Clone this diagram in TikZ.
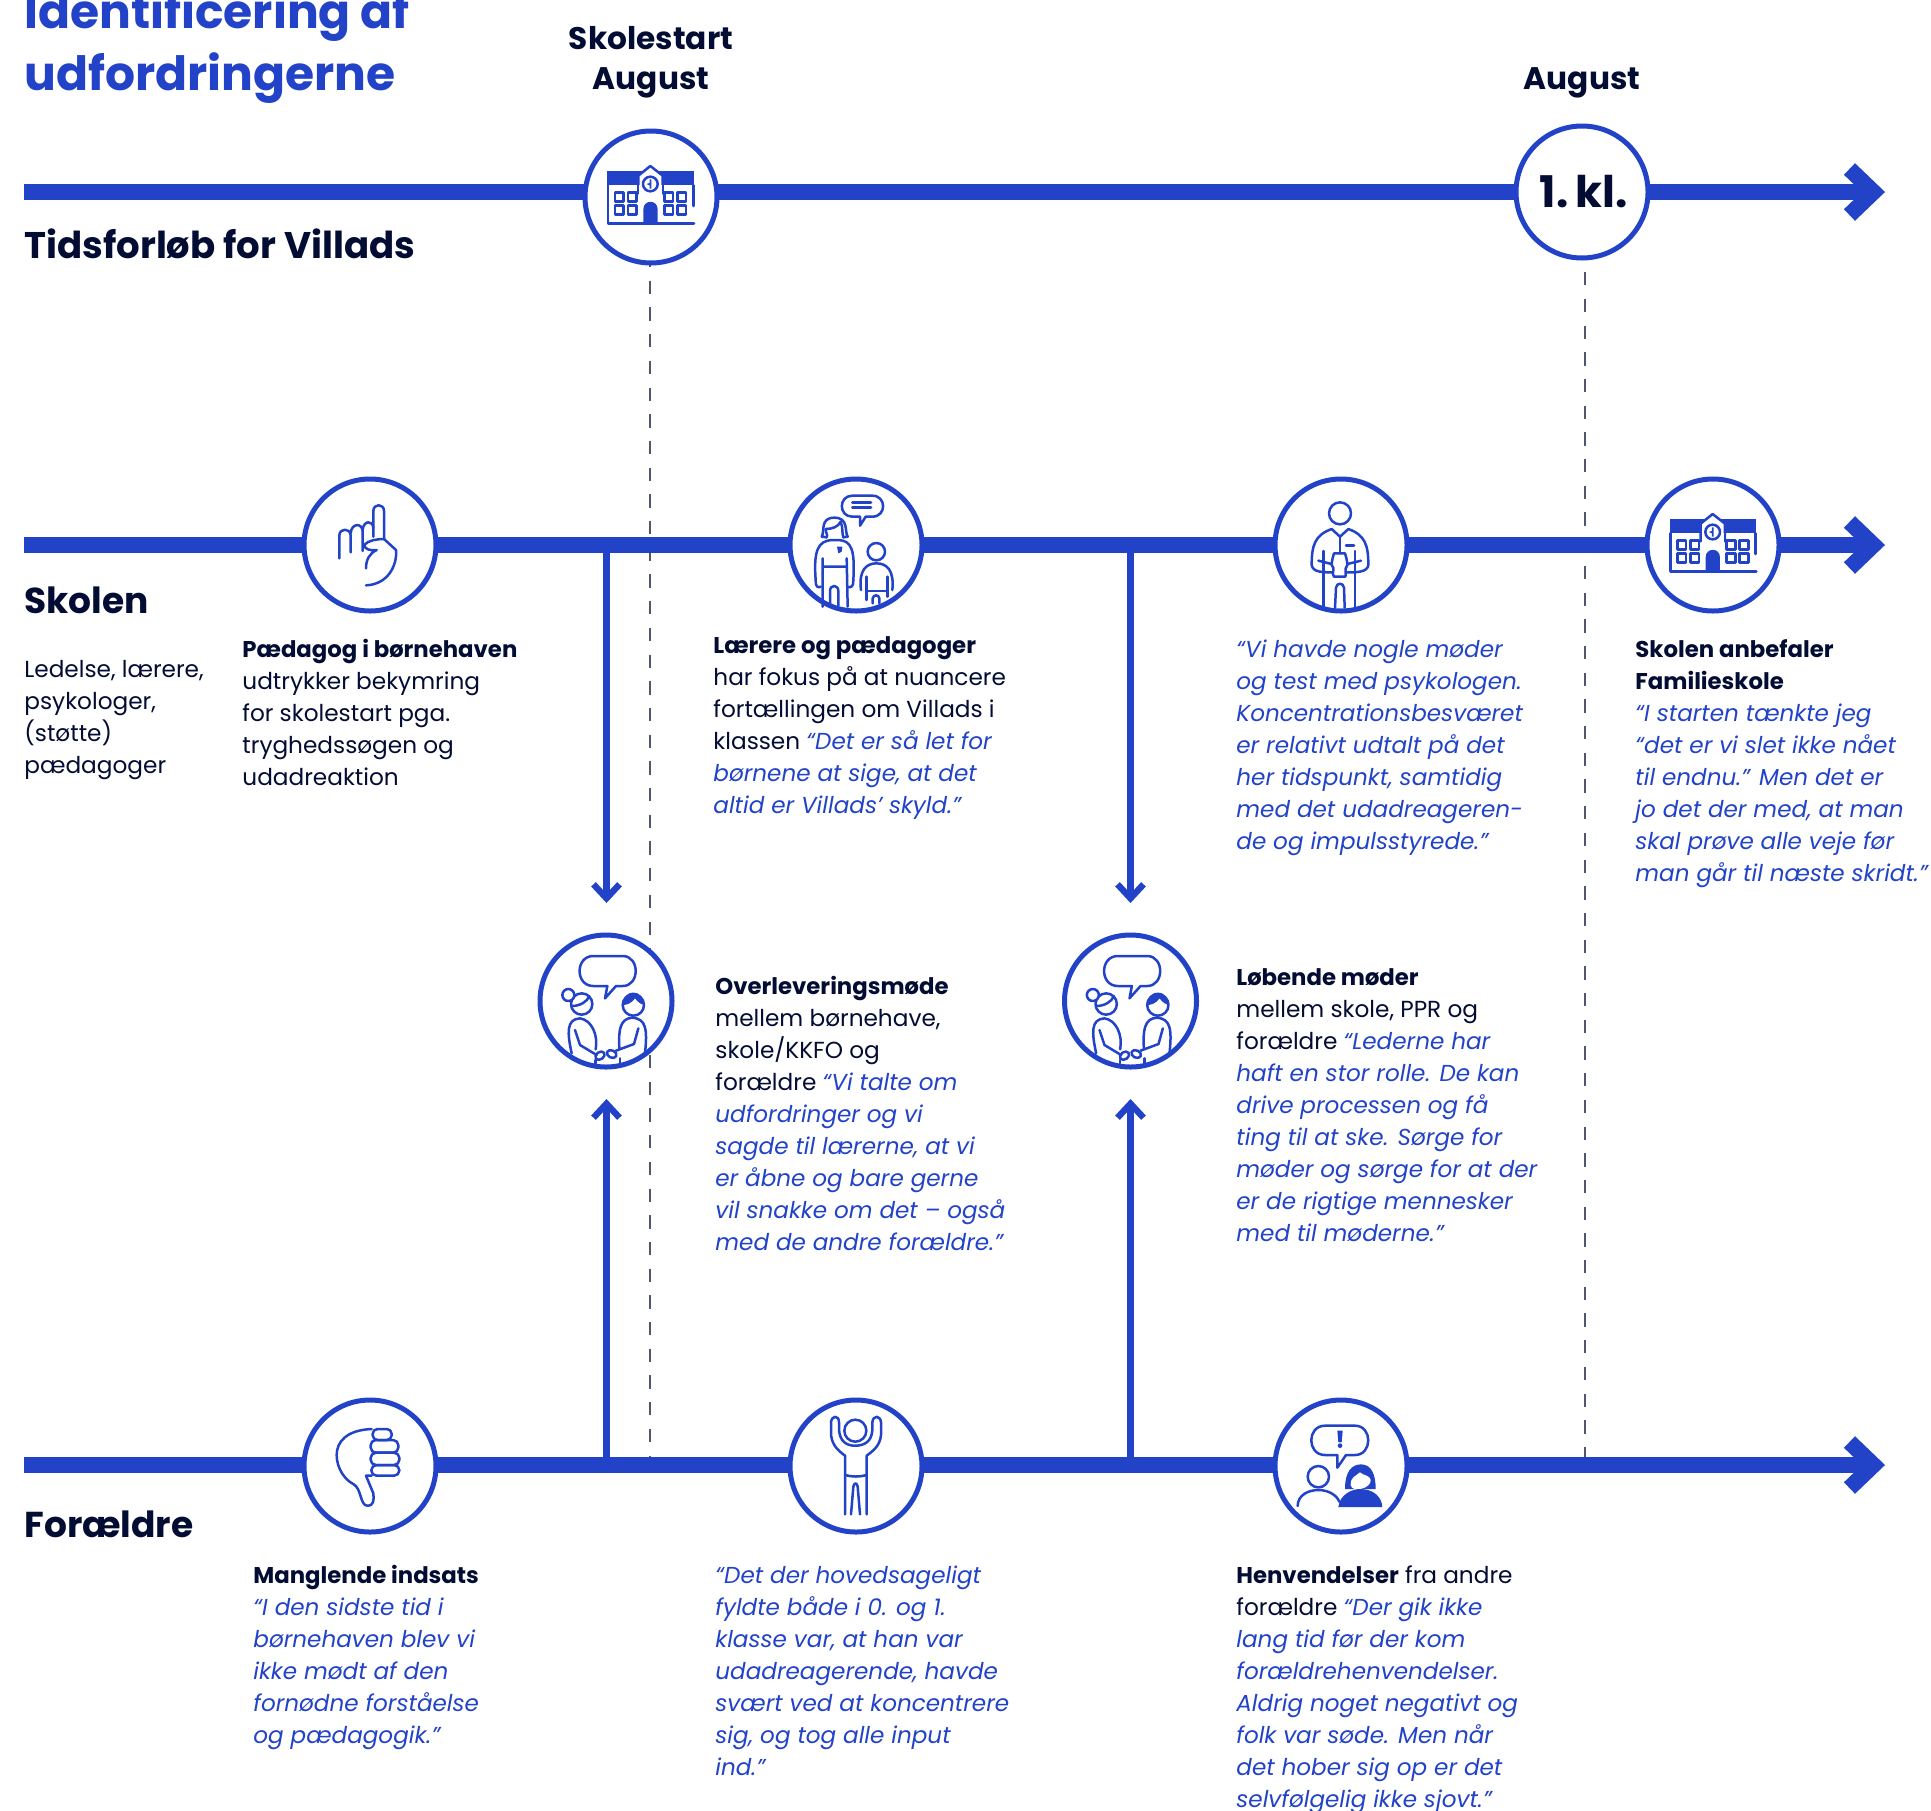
\documentclass[tikz,border=0pt]{standalone}
\usepackage{fontspec}
\setmainfont{Poppins}
\usetikzlibrary{arrows.meta}
\definecolor{brand}{HTML}{2243C8}
\definecolor{ink}{HTML}{030D33}
\definecolor{dashc}{HTML}{50566E}
\newcommand\bodysize{\fontsize{11.6pt}{16pt}\selectfont}
\newcommand\q[1]{{\fontsize{11.55pt}{16pt}\selectfont\color{brand}\itshape #1}}
\newcommand\tb[1]{{\fontsize{11.4pt}{16pt}\selectfont\bfseries #1}}
\tikzset{
 ring/.style={circle,draw=brand,fill=white,line width=2.5pt,minimum size=66pt,inner sep=0pt},
 bar/.style={draw=brand,line width=8pt},
 bararrow/.style={bar,-{Straight Barb[length=12pt,width=23pt,line width=8pt]}},
 vert/.style={draw=brand,line width=3.2pt,-{Straight Barb[length=7pt,width=13pt,line width=3.2pt]}},
 vline/.style={draw=dashc,line width=1pt,dash pattern=on 6.67pt off 6.68pt},
 body/.style={anchor=north west,inner sep=0pt,align=left,text=ink,font=\bodysize},
 head/.style={anchor=base west,inner sep=0pt,text=ink,font=\fontsize{18pt}{22pt}\selectfont\bfseries},
 datehead/.style={anchor=base,inner sep=0pt,text=ink,font=\fontsize{15.6pt}{20pt}\selectfont\bfseries,align=center},
 title/.style={anchor=base west,inner sep=0pt,text=brand,font=\fontsize{23.6pt}{31pt}\selectfont\bfseries},
 icon/.style={x=0.16667pt,y=-0.16667pt,line width=1.25pt,draw=brand,line cap=round,line join=round},
}
\newcommand\schoolicon{%
 \fill[brand] (112,184) rectangle (372,226);
 \draw[fill=white] (205,250) -- (205,197) -- (241,168) -- (278,197) -- (278,250);
 \fill[white] (208,226) rectangle (275,252);
 \draw (114,226) -- (114,340) -- (372,340);
 \draw (370,226) -- (370,288);
 \draw[fill=white] (241,222) circle [radius=22];
 \fill[brand] (244,208) -- (244,236) -- (239,236) -- (239,226) -- (229,222) -- (239,219) -- (239,208) -- cycle;
 \foreach \a/\b in {135/248,174/248,135/287,174/287,283/248,322/248,283/287,322/287}
  \draw (\a,\b) rectangle ++(26,26);
 \fill[brand] (220,340) -- (220,298) .. controls (220,268) and (263,268) .. (263,298) -- (263,340) -- cycle;
}
\begin{document}
\begin{tikzpicture}[x=0.5pt,y=-0.5pt]
\clip (0,0) rectangle (1931,1810);
\fill[white] (0,0) rectangle (1931,1810);
% free ends
\coordinate (a0) at (24,192);
\coordinate (a1) at (1885,192);
\coordinate (b0) at (24,545);
\coordinate (b1) at (1885,545);
\coordinate (c0) at (24,1465);
\coordinate (c1) at (1885,1465);
\coordinate (d1a) at (650,1465);
\coordinate (d2a) at (1585,1465);
\coordinate (j1t) at (606.5,545);
\coordinate (j2t) at (1130.5,545);
\coordinate (j1b) at (606.5,1465);
\coordinate (j2b) at (1130.5,1465);
\coordinate (t1) at (606.5,903);
\coordinate (t2) at (1130.5,903);
\coordinate (u1) at (606.5,1099);
\coordinate (u2) at (1130.5,1099);
\coordinate (d1top) at (650,200.6);
\coordinate (d2top) at (1585,192);
% dashed guides
\draw[vline] (d1top) -- (d1a);
\draw[vline] (d2top) -- (d2a);
% main lines
\draw[bararrow] (a0) -- (a1);
\draw[bararrow] (b0) -- (b1);
\draw[bararrow] (c0) -- (c1);
% vertical connectors
\draw[vert] (j1t) -- (t1);
\draw[vert] (j2t) -- (t2);
\draw[vert] (j1b) -- (u1);
\draw[vert] (j2b) -- (u2);
% circles
\node[ring] (schoolA) at (651,197) {};
\node[ring] (klasse) at (1582,192) {};
\node[ring] (finger) at (370,545) {};
\node[ring] (teach) at (856,545) {};
\node[ring] (psych) at (1341,545) {};
\node[ring] (schoolB) at (1713,545) {};
\node[ring] (meetA) at (606,1001) {};
\node[ring] (meetB) at (1130.5,1001) {};
\node[ring] (thumb) at (370,1466) {};
\node[ring] (raise) at (856,1466) {};
\node[ring] (parents) at (1341,1466) {};
\node[inner sep=0pt,text=ink,font=\fontsize{21.8pt}{24pt}\selectfont\bfseries] (kl) at (1584,192) {1.\,kl.};
% icons
\begin{scope}[shift={(570,110)},icon]\schoolicon\end{scope}
\begin{scope}[shift={(1632.3,458)},icon]\schoolicon\end{scope}
% finger
\begin{scope}[shift={(290,465)},icon]
 \draw (250,215) -- (250,138) .. controls (250,115) and (282,115) .. (282,138) -- (282,222) -- (318,255) .. controls (322,300) and (295,358) .. (228,361);
 \draw (148,280) -- (148,212) .. controls (148,188) and (182,188) .. (182,212) -- (182,262);
 \draw (182,205) .. controls (184,173) and (218,173) .. (218,200) -- (218,258);
 \draw (218,195) .. controls (220,165) and (250,165) .. (250,190);
 \draw (282,222) .. controls (260,222) and (235,226) .. (222,240) .. controls (224,252) and (240,258) .. (260,255) .. controls (238,265) and (228,285) .. (228,310);
\end{scope}
% teachers
\begin{scope}[shift={(775,465)},icon]
 \draw (232,92) -- (292,92) .. controls (335,92) and (335,155) .. (292,155) -- (272,155) -- (255,182) -- (255,155) -- (232,155) .. controls (190,155) and (190,92) .. (232,92) -- cycle;
 \draw (232,112) -- (288,112) (232,128) -- (288,128);
 \draw (155,217) -- (140,215) .. controls (150,200) and (134,158) .. (178,158) .. controls (222,158) and (208,200) .. (218,215) -- (205,217);
 \draw (155,217) .. controls (160,210) and (150,200) .. (152,192) .. controls (172,192) and (190,185) .. (197,170) .. controls (205,190) and (200,205) .. (205,217);
 \draw (122,345) .. controls (115,255) and (130,228) .. (170,225) -- (192,225) .. controls (230,228) and (240,255) .. (235,345);
 \draw (122,345) .. controls (120,365) and (130,370) .. (137,365);
 \draw (235,345) .. controls (237,365) and (225,370) .. (220,365);
 \draw (143,280) -- (143,425) (215,280) -- (218,425) (143,305) -- (215,305);
 \draw (165,420) -- (165,378) .. controls (165,358) and (190,358) .. (190,378) -- (190,422);
 \fill[brand] (186,245) -- (202,245) -- (200,260) -- (190,265) -- cycle;
 \draw (304,260) circle [radius=26];
 \draw (258,375) .. controls (250,315) and (275,295) .. (304,295) .. controls (335,295) and (358,315) .. (352,375);
 \draw (275,335) -- (275,405) (337,335) -- (337,395) (275,378) -- (337,378);
 \draw (293,415) -- (293,400) .. controls (295,388) and (312,388) .. (313,400) -- (313,415);
\end{scope}
% psychologist
\begin{scope}[shift={(1260,465)},icon]
 \draw (240,145) circle [radius=33];
 \draw (155,300) .. controls (155,240) and (165,210) .. (215,192) -- (240,215) -- (265,192) .. controls (315,210) and (325,240) .. (325,300) .. controls (322,322) and (290,322) .. (262,322);
 \draw (155,300) .. controls (158,322) and (190,322) .. (215,322);
 \draw (240,215) -- (240,265) (258,242) -- (282,242);
 \draw (190,258) -- (190,425) (285,258) -- (285,425);
 \draw (222,265) -- (255,265) .. controls (262,285) and (262,300) .. (262,300) .. controls (250,312) and (262,335) .. (255,335) -- (222,335) .. controls (212,325) and (228,312) .. (215,300) .. controls (215,285) and (222,265) .. (222,265);
 \draw (175,287) -- (215,297) (303,287) -- (262,297);
 \draw (225,428) -- (228,368) .. controls (230,352) and (250,352) .. (252,368) -- (254,428);
\end{scope}
% meetings
\foreach \ox in {530,1054.5}{
\begin{scope}[shift={(\ox,920)},icon]
 \draw (190,108) -- (278,108) .. controls (330,108) and (330,198) .. (278,198) -- (258,198) -- (225,235) -- (232,198) -- (190,198) .. controls (135,198) and (135,108) .. (190,108) -- cycle;
 \draw (155,252) circle [radius=32];
 \draw[fill=white] (115,225) circle [radius=18];
 \draw (125,258) .. controls (150,258) and (172,245) .. (178,228);
 \draw (125,400) .. controls (112,340) and (108,297) .. (150,295) .. controls (185,300) and (205,345) .. (197,388);
 \draw (135,330) -- (150,375) -- (200,405);
 \draw[rotate around={35:(210,407)}] (210,407) ellipse [x radius=15,y radius=11];
 \draw (197,420) -- (197,430);
 \draw (310,255) circle [radius=32];
 \fill[brand] (278,255) .. controls (278,205) and (342,205) .. (342,255) .. controls (325,250) and (320,240) .. (315,235) .. controls (305,250) and (290,255) .. (278,255) -- cycle;
 \draw (345,400) .. controls (352,330) and (350,295) .. (305,293) .. controls (270,297) and (265,330) .. (268,385);
 \draw (325,325) -- (312,372) -- (258,392);
 \draw[rotate around={-25:(245,402)}] (245,402) ellipse [x radius=15,y radius=11];
 \draw (270,415) -- (270,430);
\end{scope}}
% thumb
\begin{scope}[shift={(290,1385)},icon]
 \draw (245,132) .. controls (170,135) and (140,170) .. (140,210) .. controls (140,250) and (165,285) .. (190,297) .. controls (215,310) and (210,362) .. (232,362) .. controls (252,362) and (252,345) .. (250,325) -- (228,272) -- (245,272);
 \draw[rounded corners=2.4pt] (248,132) rectangle (305,165);
 \draw[rounded corners=2.6pt] (242,165) rectangle (325,203);
 \draw[rounded corners=2.6pt] (242,203) rectangle (328,240);
 \draw[rounded corners=2.6pt] (244,240) rectangle (328,272);
\end{scope}
% raised arms
\begin{scope}[shift={(775,1385)},icon]
 \draw (241,137) circle [radius=33];
 \draw (210,388) -- (210,212) .. controls (195,200) and (172,185) .. (168,150) -- (168,112) .. controls (170,90) and (192,90) .. (192,112) -- (192,135) .. controls (195,170) and (215,182) .. (240,182) .. controls (268,182) and (290,170) .. (292,135) -- (292,112) .. controls (294,90) and (316,90) .. (318,112) -- (318,150) .. controls (315,185) and (290,200) .. (275,212) -- (275,388);
 \draw (210,270) .. controls (230,276) and (255,276) .. (275,270);
 \draw (228,388) -- (235,305) .. controls (237,292) and (246,292) .. (248,305) -- (255,388);
\end{scope}
% parents
\begin{scope}[shift={(1260,1385)},icon]
 \draw (195,122) -- (285,122) .. controls (338,122) and (338,210) .. (285,210) -- (258,210) -- (232,248) -- (232,210) -- (195,210) .. controls (140,210) and (140,122) .. (195,122) -- cycle;
 \fill[brand] (232,137) -- (248,137) -- (245,172) -- (235,172) -- cycle;
 \fill[brand] (240,182) circle [radius=7];
 \draw (175,275) circle [radius=32];
 \draw (113,363) .. controls (113,330) and (145,315) .. (175,315) .. controls (205,315) and (230,330) .. (238,350);
 \fill[brand] (255,312) .. controls (255,260) and (275,238) .. (303,238) .. controls (335,238) and (347,270) .. (347,312) -- cycle;
 \fill[white] (272,300) .. controls (272,275) and (285,275) .. (300,262) .. controls (310,272) and (330,270) .. (332,285) .. controls (335,310) and (275,325) .. (272,300) -- cycle;
 \fill[brand] (235,366) .. controls (240,325) and (280,312) .. (300,312) .. controls (340,312) and (365,335) .. (367,366) -- cycle;
\end{scope}
% headings
\node[title] (tt1) at (24,28) {Identificering af};
\node[title] (tt2) at (24,90) {udfordringerne};
\node[head,font=\fontsize{18.55pt}{22pt}\selectfont\bfseries] (h1) at (24,258) {Tidsforløb for Villads};
\node[head] (h2) at (24,613) {Skolen};
\node[head] (h3) at (24,1537) {Forældre};
\node[datehead] (d1) at (651,49) {Skolestart};
\node[datehead] (d2) at (651,89) {August};
\node[datehead] (d3) at (1582,89) {August};
% body blocks
\newcommand\bl[4]{\node[body] (#1) at (#2,#3-22.6) {\strut #4};}
\bl{b1}{24}{677}{Ledelse, lærere,\\psykologer,\\(støtte)\\pædagoger}
\bl{b2}{242}{657}{\tb{Pædagog i børnehaven}\\udtrykker bekymring\\for skolestart pga.\\tryghedssøgen og\\udadreaktion}
\bl{b3}{713}{653}{\tb{Lærere og pædagoger}\\har fokus på at nuancere\\fortællingen om Villads i\\klassen \q{“Det er så let for}\\\q{børnene at sige, at det}\\\q{altid er Villads’ skyld.”}}
\bl{b4}{1236}{657}{\q{“Vi havde nogle møder}\\\q{og test med psykologen.}\\\q{Koncentrationsbesværet}\\\q{er relativt udtalt på det}\\\q{her tidspunkt, samtidig}\\\q{med det udadreageren-}\\\q{de og impulsstyrede.”}}
\bl{b5}{1635}{657}{\tb{Skolen anbefaler}\\\tb{Familieskole}\\\q{“I starten tænkte jeg}\\\q{“det er vi slet ikke nået}\\\q{til endnu.” Men det er}\\\q{jo det der med, at man}\\\q{skal prøve alle veje før}\\\q{man går til næste skridt.”}}
\bl{b6}{715}{994}{\tb{Overleveringsmøde}\\mellem børnehave,\\skole/KKFO og\\forældre \q{“Vi talte om}\\\q{udfordringer og vi}\\\q{sagde til lærerne, at vi}\\\q{er åbne og bare gerne}\\\q{vil snakke om det – også}\\\q{med de andre forældre.”}}
\bl{b7}{1236}{985}{\tb{Løbende møder}\\mellem skole, PPR og\\forældre \q{“Lederne har}\\\q{haft en stor rolle. De kan}\\\q{drive processen og få}\\\q{ting til at ske. Sørge for}\\\q{møder og sørge for at der}\\\q{er de rigtige mennesker}\\\q{med til møderne.”}}
\bl{b8}{253}{1583}{\tb{Manglende indsats}\\\q{“I den sidste tid i}\\\q{børnehaven blev vi}\\\q{ikke mødt af den}\\\q{fornødne forståelse}\\\q{og pædagogik.”}}
\bl{b9}{715}{1583}{\q{“Det der hovedsageligt}\\\q{fyldte både i 0. og 1.}\\\q{klasse var, at han var}\\\q{udadreagerende, havde}\\\q{svært ved at koncentrere}\\\q{sig, og tog alle input}\\\q{ind.”}}
\bl{b10}{1236}{1583}{\tb{Henvendelser} fra andre\\forældre \q{“Der gik ikke}\\\q{lang tid før der kom}\\\q{forældrehenvendelser.}\\\q{Aldrig noget negativt og}\\\q{folk var søde. Men når}\\\q{det hober sig op er det}\\\q{selvfølgelig ikke sjovt.”}}
\end{tikzpicture}
\end{document}
